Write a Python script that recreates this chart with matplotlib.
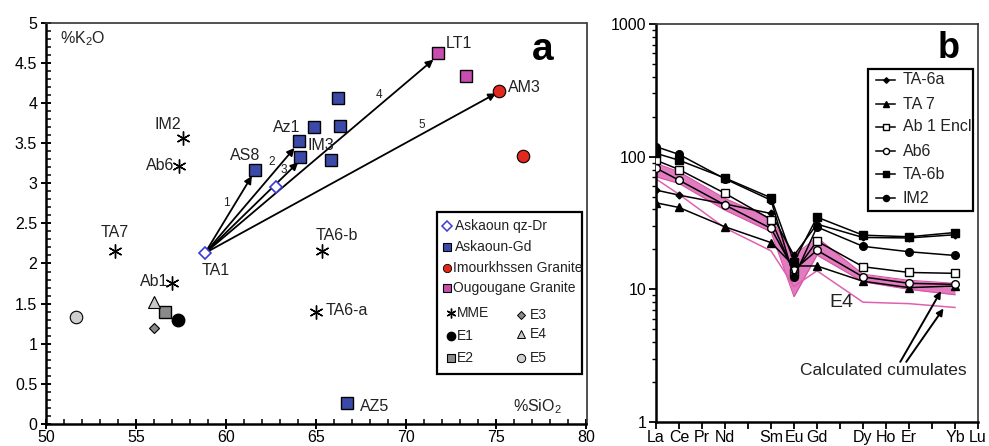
import matplotlib
matplotlib.use('Agg')
import matplotlib.pyplot as plt
from matplotlib import font_manager, ticker
from matplotlib.patches import Rectangle
from matplotlib.lines import Line2D

names = {f.name for f in font_manager.fontManager.ttflist}
MAIN = 'Liberation Sans' if 'Liberation Sans' in names else 'DejaVu Sans'
NARROW = 'Liberation Sans Narrow' if 'Liberation Sans Narrow' in names else None
plt.rcParams['font.family'] = [MAIN, 'DejaVu Sans']
plt.rcParams['mathtext.fontset'] = 'custom'
plt.rcParams['mathtext.rm'] = MAIN
plt.rcParams['mathtext.default'] = 'regular'

# ---------------- data: panel a (K2O vs SiO2) ----------------
qzdr_x = [58.82, 62.75]
qzdr_y = [2.13, 2.95]
gd_x = [61.57, 64.05, 64.09, 64.88, 66.19, 66.34, 65.82, 66.72]
gd_y = [3.16, 3.53, 3.33, 3.70, 4.06, 3.71, 3.29, 0.26]
imour_x = [75.13, 76.50]
imour_y = [4.15, 3.34]
ougou_x = [71.78, 73.32]
ougou_y = [4.62, 4.34]
mme_x = [57.62, 57.39, 53.80, 57.00, 65.29, 64.99]
mme_y = [3.56, 3.22, 2.15, 1.76, 2.15, 1.39]
e1_x, e1_y = [57.30], [1.30]
e2_x, e2_y = [56.58], [1.39]
e3_x, e3_y = [55.98], [1.19]
e4_x, e4_y = [55.98], [1.52]
e5_x, e5_y = [51.64], [1.33]

point_labels = ['IM2', 'Ab6', 'TA7', 'Ab1', 'TA1', 'AS8', 'Az1', 'IM3', 'LT1', 'AM3',
                'TA6-b', 'TA6-a', 'AZ5']
label_x = [56.77, 56.32, 53.80, 56.02, 59.40, 61.02, 63.35, 65.27, 72.89, 76.54,
           66.16, 66.70, 68.21]
label_y = [3.73, 3.22, 2.39, 1.77, 1.91, 3.34, 3.69, 3.47, 4.74, 4.19,
           2.35, 1.41, 0.22]

arrow_start = (58.82, 2.13)
arrow_ids = ['1', '2', '3', '4', '5']
arrow_end_x = [61.42, 63.79, 63.99, 71.50, 74.98]
arrow_end_y = [3.09, 3.44, 3.26, 4.54, 4.12]
arrow_lab_x = [59.99, 62.51, 63.18, 68.47, 70.86]
arrow_lab_y = [2.75, 3.26, 3.16, 4.10, 3.73]

# ---------------- data: panel b (REE patterns) ----------------
ree = ['La', 'Ce', 'Pr', 'Nd', 'Pm', 'Sm', 'Eu', 'Gd', 'Tb', 'Dy', 'Ho', 'Er', 'Tm', 'Yb', 'Lu']
ree_shown = ['La', 'Ce', 'Pr', 'Nd', '', 'Sm', 'Eu', 'Gd', '', 'Dy', 'Ho', 'Er', '', 'Yb', 'Lu']
meas = ['La', 'Ce', 'Nd', 'Sm', 'Eu', 'Gd', 'Dy', 'Er', 'Yb']
ta6a = [56, 51.3, 44, 37.3, 18.0, 31.0, 24.6, 24.4, 25.8]
ta7 = [44.9, 41.4, 29.6, 22.5, 15.0, 15.0, 11.5, 10.3, 10.6]
ab1 = [94, 80, 52.9, 33.6, 13.3, 23.1, 14.8, 13.4, 13.2]
ab6 = [82, 66.5, 43.2, 28.8, 14.0, 19.7, 12.4, 11.1, 10.9]
ta6b = [106, 94, 69, 49, 16.1, 35.0, 25.6, 24.9, 26.8]
im2 = [119, 104, 68, 47, 12.3, 29.5, 21.1, 19.2, 18.0]
e4_upper = [89, 77, 48.4, 34.2, 18.0, 24.6, 13.0, 11.7, 11.1]
e4_lower = [70.5, 62.8, 39.5, 27.1, 8.8, 18.1, 11.4, 10.0, 9.1]
cumulate = [68, 52, 29, 19.5, 10.5, 13.8, 8.0, 7.8, 7.3]

xi = [ree.index(e) for e in meas]

W, H = 989, 446
fig = plt.figure(figsize=(W / 100, H / 100), dpi=100)


def fbox(l, t, r, b):
    return [l / W, 1 - b / H, (r - l) / W, (b - t) / H]


def fp(px, py):
    return (px / W, 1 - py / H)


axa = fig.add_axes(fbox(46.2, 22.7, 586.5, 424))
axb = fig.add_axes(fbox(656, 24, 978, 422))

FS = 11.5
TXT = '#222222'

# ---------------- panel a ----------------
gd_c = '#3b4aa6'
red_c = '#e0281c'
mag_c = '#c84daf'
mme_m = (6, 2, 0)

axa.plot(qzdr_x, qzdr_y, ls='none', marker='D', ms=6.5, mfc='white', mec='#3a3ad8', mew=1.2, zorder=4)
axa.plot(gd_x, gd_y, ls='none', marker='s', ms=9, mfc=gd_c, mec='black', mew=1.0, zorder=4)
axa.plot(imour_x, imour_y, ls='none', marker='o', ms=9, mfc=red_c, mec='black', mew=0.8, zorder=4)
axa.plot(ougou_x, ougou_y, ls='none', marker='s', ms=9, mfc=mag_c, mec='black', mew=1.0, zorder=4)
axa.plot(mme_x, mme_y, ls='none', marker=mme_m, ms=10, color='black', mew=1.0, zorder=4)
axa.plot(e1_x, e1_y, ls='none', marker='o', ms=9, mfc='black', mec='black', zorder=4)
axa.plot(e2_x, e2_y, ls='none', marker='s', ms=8.5, mfc='#8a8a8a', mec='black', mew=1.0, zorder=4)
axa.plot(e3_x, e3_y, ls='none', marker='D', ms=5.5, mfc='#8a8a8a', mec='black', mew=0.8, zorder=4)
axa.plot(e4_x, e4_y, ls='none', marker='^', ms=9, mfc='#c8c8c8', mec='black', mew=0.8, zorder=4)
axa.plot(e5_x, e5_y, ls='none', marker='o', ms=9, mfc='#cfcfcf', mec='black', mew=0.8, zorder=4)

for ex, ey in zip(arrow_end_x, arrow_end_y):
    axa.annotate('', xy=(ex, ey), xytext=arrow_start,
                 arrowprops=dict(arrowstyle='-|>', color='black', lw=1.3,
                                 mutation_scale=11, shrinkA=0, shrinkB=0), zorder=3)
for t, x, y in zip(arrow_ids, arrow_lab_x, arrow_lab_y):
    axa.text(x, y, t, fontsize=8.5, ha='center', va='center', color=TXT)

for t, x, y in zip(point_labels, label_x, label_y):
    axa.text(x, y, t, fontsize=FS, ha='center', va='center', color=TXT, zorder=5)

axa.text(52.03, 4.80, '%K$_2$O', fontsize=FS, ha='center', va='center', color=TXT)
axa.text(77.27, 0.21, '%SiO$_2$', fontsize=FS, ha='center', va='center', color=TXT)
axa.text(77.55, 4.66, 'a', fontsize=28, fontweight='bold', ha='center', va='center')

axa.set_xlim(50, 80)
axa.set_ylim(0, 5)
axa.xaxis.set_major_locator(ticker.MultipleLocator(5))
axa.xaxis.set_minor_locator(ticker.MultipleLocator(1))
axa.yaxis.set_major_locator(ticker.MultipleLocator(0.5))
axa.yaxis.set_minor_locator(ticker.MultipleLocator(0.1))
axa.yaxis.set_major_formatter(ticker.FuncFormatter(lambda v, _: f'{v:g}'))
axa.tick_params(which='major', direction='inout', length=7, width=1.4, labelsize=FS, pad=3)
axa.tick_params(axis='x', which='major', pad=0.5)
axa.tick_params(which='minor', direction='in', length=3.5, width=1.1)
for s in ['left', 'bottom']:
    axa.spines[s].set_linewidth(1.8)
for s in ['top', 'right']:
    axa.spines[s].set_linewidth(1.2)
    axa.spines[s].set_color('#333333')

# legend a (drawn in figure coordinates)
if NARROW:
    leg_font = dict(fontsize=FS, family=[NARROW, 'DejaVu Sans'])
else:
    leg_font = dict(fontsize=10)
fig.add_artist(Rectangle(fp(437.3, 374.3), (581.9 - 437.3) / W, (374.3 - 211.7) / H,
                         transform=fig.transFigure, fill=False, lw=1.6, ec='black'))
leg_a = [
    (447.3, 225.7, 455.0, 'Askaoun qz-Dr', dict(marker='D', ms=5, mfc='white', mec='#3a3ad8', mew=1.1)),
    (447.3, 246.7, 455.0, 'Askaoun-Gd', dict(marker='s', ms=6, mfc=gd_c, mec='black', mew=0.8)),
    (447.3, 267.7, 453.0, 'Imourkhssen Granite', dict(marker='o', ms=6, mfc=red_c, mec='black', mew=0.6)),
    (447.3, 288.3, 453.0, 'Ougougane Granite', dict(marker='s', ms=6, mfc=mag_c, mec='black', mew=0.8)),
    (450.8, 313.3, 457.0, 'MME', dict(marker=mme_m, ms=7, color='black', mew=1.0)),
    (450.8, 336.0, 457.0, 'E1', dict(marker='o', ms=6, mfc='black', mec='black')),
    (450.8, 357.7, 457.0, 'E2', dict(marker='s', ms=6, mfc='#8a8a8a', mec='black', mew=0.8)),
    (521.2, 315.0, 530.0, 'E3', dict(marker='D', ms=4.5, mfc='#8a8a8a', mec='black', mew=0.7)),
    (521.2, 334.3, 530.0, 'E4', dict(marker='^', ms=6, mfc='#c8c8c8', mec='black', mew=0.7)),
    (521.2, 357.7, 530.0, 'E5', dict(marker='o', ms=6, mfc='#cfcfcf', mec='black', mew=0.7)),
]
for mx, my, tx, lab, kw in leg_a:
    x, y = fp(mx, my)
    fig.add_artist(Line2D([x], [y], transform=fig.transFigure, ls='none', **kw))
    fig.text(tx / W, 1 - my / H, lab, va='center', ha='left', color=TXT, **leg_font)

# ---------------- panel b ----------------
band_c = '#e27cc0'
edge_c = '#d9519f'
axb.fill_between(xi, e4_lower, e4_upper, color=band_c, lw=0, zorder=1)
axb.plot(xi, e4_upper, color=edge_c, lw=0.8, zorder=1.5)
axb.plot(xi, e4_lower, color=edge_c, lw=0.8, zorder=1.5)
axb.plot(xi, cumulate, color='#e060b0', lw=1.1, zorder=1.5)

series = [
    ('TA-6a', ta6a, dict(marker='D', ms=3.5, mfc='black', mec='black')),
    ('TA 7', ta7, dict(marker='^', ms=5.5, mfc='black', mec='black')),
    ('Ab 1 Encl', ab1, dict(marker='s', ms=5.5, mfc='white', mec='black', mew=1.0)),
    ('Ab6', ab6, dict(marker='o', ms=5.5, mfc='white', mec='black', mew=1.0)),
    ('TA-6b', ta6b, dict(marker='s', ms=5.5, mfc='black', mec='black')),
    ('IM2', im2, dict(marker='o', ms=5.5, mfc='black', mec='black')),
]
for name, vals, kw in series:
    axb.plot(xi, vals, color='black', lw=1.1, zorder=3, **kw)

axb.text(8.04, 8.0, 'E4', fontsize=14, ha='center', va='center', color=TXT)
axb.text(9.89, 2.45, 'Calculated cumulates', fontsize=12.5, ha='center', va='center', color=TXT)
axb.annotate('', xy=(12.39, 9.7), xytext=(10.62, 2.84),
             arrowprops=dict(arrowstyle='-|>', color='black', lw=1.4, mutation_scale=10,
                             shrinkA=0, shrinkB=0))
axb.annotate('', xy=(12.50, 7.17), xytext=(10.88, 2.84),
             arrowprops=dict(arrowstyle='-|>', color='black', lw=1.4, mutation_scale=10,
                             shrinkA=0, shrinkB=0))
axb.text(12.72, 650, 'b', fontsize=26, fontweight='bold', ha='center', va='center')

axb.set_yscale('log')
axb.set_ylim(1, 1000)
axb.set_xlim(0, 14)
axb.set_xticks(range(len(ree)))
axb.set_xticklabels(ree_shown)
axb.yaxis.set_major_formatter(ticker.FuncFormatter(lambda v, _: f'{v:g}'))
axb.yaxis.set_minor_formatter(ticker.NullFormatter())
axb.tick_params(which='major', direction='out', length=5, width=1.3, labelsize=FS, pad=2)
axb.tick_params(axis='x', which='major', pad=0.5)
axb.tick_params(which='minor', direction='out', length=3, width=1.0)
for s in ['left', 'bottom']:
    axb.spines[s].set_linewidth(1.8)
for s in ['top', 'right']:
    axb.spines[s].set_linewidth(1.2)
    axb.spines[s].set_color('#333333')

# legend b
fig.add_artist(Rectangle(fp(867.7, 210.5), (972.7 - 867.7) / W, (210.5 - 69.3) / H,
                         transform=fig.transFigure, fill=False, lw=1.6, ec='black'))
leg_ys = [80, 104.3, 126.7, 151, 174.3, 198.3]
for (name, vals, kw), ly in zip(series, leg_ys):
    x0, y = fp(876, ly)
    x1, _ = fp(895, ly)
    kw2 = dict(kw)
    kw2['ms'] = kw['ms'] * 0.8
    fig.add_artist(Line2D([x0, x1], [y, y], transform=fig.transFigure, color='black', lw=1.1))
    fig.add_artist(Line2D([(x0 + x1) / 2], [y], transform=fig.transFigure, ls='none', **kw2))
    fig.text(902.7 / W, y, name, fontsize=FS, va='center', ha='left', color=TXT)

fig.savefig('out.png', dpi=100)
